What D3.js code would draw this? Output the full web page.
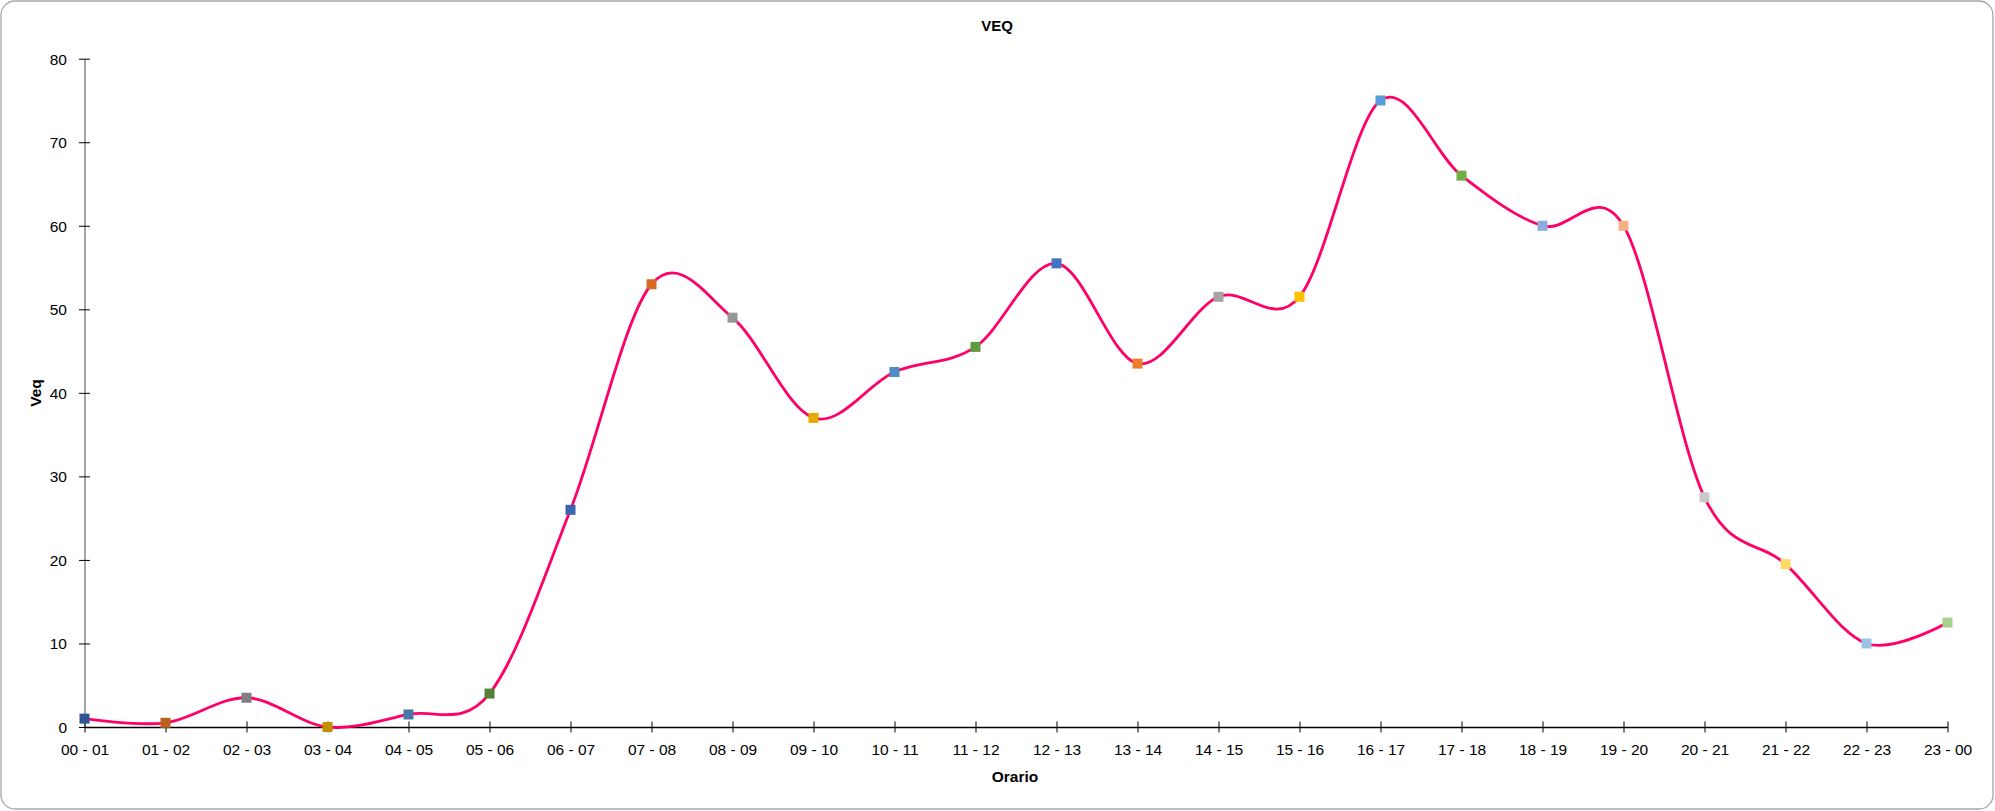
<!DOCTYPE html>
<html>
<head>
<meta charset="utf-8">
<script src="https://cdn.jsdelivr.net/npm/d3@7"></script>
<style>
  html, body { margin: 0; padding: 0; background: #fff; }
  svg { display: block; }
  .tick text { font-family: 'Liberation Sans', Arial, sans-serif; font-size: 15.5px; fill: #000; }
  .label, .title { font-family: 'Liberation Sans', Arial, sans-serif; font-weight: bold; fill: #000; }
</style>
</head>
<body>
<svg width="1995" height="811"></svg>
<script>
const categories = ['00 - 01', '01 - 02', '02 - 03', '03 - 04', '04 - 05', '05 - 06', '06 - 07', '07 - 08',
  '08 - 09', '09 - 10', '10 - 11', '11 - 12', '12 - 13', '13 - 14', '14 - 15', '15 - 16',
  '16 - 17', '17 - 18', '18 - 19', '19 - 20', '20 - 21', '21 - 22', '22 - 23', '23 - 00'];
const veq = [1, 0.5, 3.5, 0, 1.5, 4, 26, 53, 49, 37, 42.5, 45.5, 55.5, 43.5, 51.5, 51.5,
  75, 66, 60, 60, 27.5, 19.5, 10, 12.5];
const yTicks = [0, 10, 20, 30, 40, 50, 60, 70, 80];
const pointColors = ['#2f5597', '#b9621f', '#7f7f7f', '#bf9000', '#4677a8', '#548235',
  '#3a64b0', '#d86a28', '#969696', '#e3ab00', '#4e8cc6', '#5f9a3c',
  '#4472c4', '#ed7d31', '#a5a5a5', '#ffc000', '#5b9bd5', '#70ad47',
  '#8faadc', '#f4b183', '#c9c9c9', '#ffd966', '#9dc3e6', '#a9d18e'];

const data = categories.map((key, i) => ({key, value: veq[i], color: pointColors[i]}));

const svg = d3.select('svg');

// chart frame
svg.append('rect')
  .attr('x', 1).attr('y', 1)
  .attr('width', 1992).attr('height', 808)
  .attr('rx', 14).attr('ry', 14)
  .attr('fill', '#fff')
  .attr('stroke', '#a6a6a6')
  .attr('stroke-width', 1.3);

const plotLeft = 84.5, plotRight = 1947.5, plotTop = 58.7, plotBottom = 727;

const xScale = d3.scalePoint()
  .domain(categories)
  .range([plotLeft, plotRight])
  .padding(0);

const yScale = d3.scaleLinear()
  .domain([0, 80])
  .range([plotBottom, plotTop]);

// y axis
const yAxis = svg.append('g')
  .attr('transform', `translate(${plotLeft}, 0)`)
  .call(d3.axisLeft(yScale).tickValues(yTicks).tickSizeOuter(0));
yAxis.select('.domain').attr('stroke', '#868686').attr('stroke-width', 1.5);
yAxis.selectAll('.tick line').attr('x1', -5.5).attr('x2', 5.5).attr('stroke', '#000');
yAxis.selectAll('.tick text').attr('x', -17.5).attr('dy', '0.35em');

// x axis
const xAxis = svg.append('g')
  .attr('transform', `translate(0, ${plotBottom})`)
  .call(d3.axisBottom(xScale).tickSizeOuter(0));
xAxis.select('.domain').attr('stroke', '#000').attr('stroke-width', 1.3);
xAxis.selectAll('.tick line').attr('y1', -5.5).attr('y2', 5.5).attr('stroke', '#000');
xAxis.selectAll('.tick text').attr('y', 23).attr('dy', '0.35em');

// smoothed line
const line = d3.line()
  .x(d => xScale(d.key))
  .y(d => yScale(d.value))
  .curve(d3.curveCardinal.tension(0));

svg.append('path')
  .datum(data)
  .attr('fill', 'none')
  .attr('stroke', '#ff0066')
  .attr('stroke-width', 2.8)
  .attr('d', line);

// markers
svg.append('g')
  .selectAll('rect')
  .data(data)
  .enter()
  .append('rect')
  .attr('x', d => xScale(d.key) - 5)
  .attr('y', d => yScale(d.value) - 5)
  .attr('width', 10)
  .attr('height', 10)
  .attr('fill', d => d.color);

svg.append('text')
  .attr('class', 'title')
  .attr('x', 997)
  .attr('y', 31)
  .attr('text-anchor', 'middle')
  .style('font-size', '15px')
  .text('VEQ');

svg.append('text')
  .attr('class', 'label')
  .attr('x', 1015)
  .attr('y', 782)
  .attr('text-anchor', 'middle')
  .style('font-size', '15.5px')
  .text('Orario');

svg.append('text')
  .attr('class', 'label')
  .attr('transform', 'translate(41, 393) rotate(-90)')
  .attr('text-anchor', 'middle')
  .style('font-size', '15.5px')
  .text('Veq');
</script>
</body>
</html>
